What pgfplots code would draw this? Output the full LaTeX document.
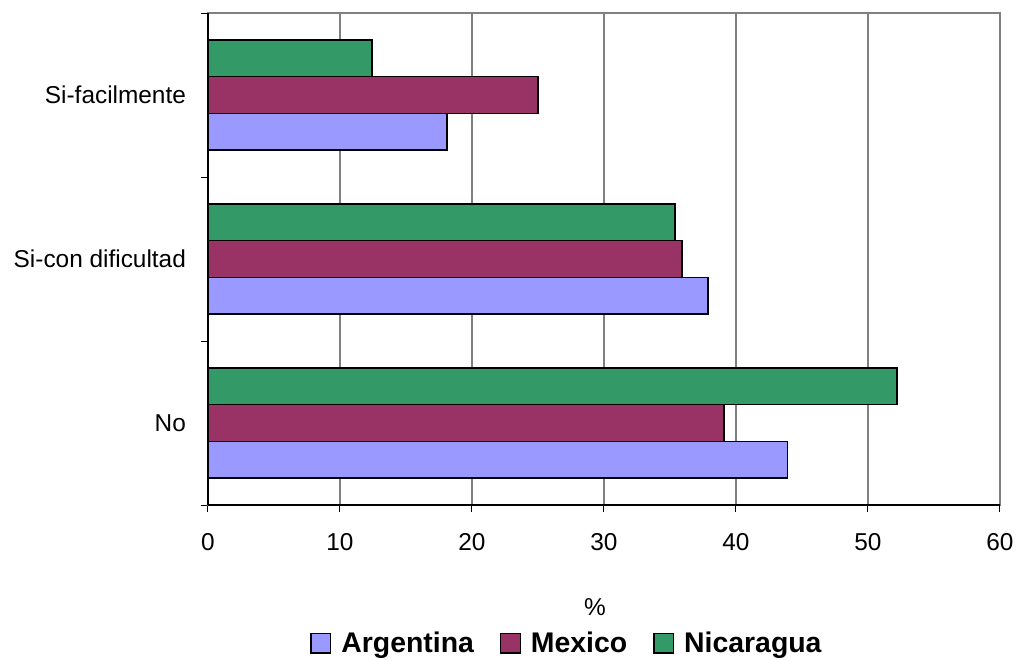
\documentclass[border=0pt]{standalone}
\usepackage{pgfplots}
\pgfplotsset{compat=1.18}
\usepackage{fontspec}
\setmainfont{Liberation Sans}
\definecolor{arg}{HTML}{9999FF}
\definecolor{mex}{HTML}{993366}
\definecolor{nic}{HTML}{339966}
\definecolor{gridgray}{HTML}{808080}

\begin{document}
\begin{tikzpicture}[x=1pt,y=1pt]
\path[use as bounding box] (0,0) rectangle (508.5,330);
\begin{axis}[
  at={(104pt,77.5pt)}, anchor=south west,
  scale only axis, width=396pt, height=246pt,
  xbar, bar width=0.224,
  xmin=0, xmax=60, ymin=-0.5, ymax=2.5,
  xtick={0,10,...,60},
  ytick={0,1,2},
  yticklabels={No,Si-con dificultad,Si-facilmente},
  minor ytick={-0.5,0.5,1.5,2.5},
  xmajorgrids,
  grid style={gridgray, line width=0.6pt},
  axis line style={gridgray, line width=0.6pt},
  tick align=outside,
  xtick pos=bottom, ytick pos=left,
  major tick length=3.5pt, minor tick length=3.5pt,
  tick style={black, line width=0.5pt},
  every major y tick/.append style={draw=none},
  tick label style={font=\fontsize{12.2}{14}\selectfont},
  /pgf/number format/assume math mode=true,
  xticklabel style={yshift=-7pt},
  yticklabel style={xshift=-4pt},
  xlabel={\%},
  xlabel style={at={(axis description cs:0.4886,-0.207)}, anchor=center, font=\fontsize{12.2}{14}\selectfont},
  legend style={at={(0.4545,-0.281)}, anchor=center, draw=none,
    font=\bfseries\fontsize{14.2}{16}\selectfont, legend columns=-1,
    /tikz/every odd column/.append style={column sep=3pt},
    /tikz/every even column/.append style={column sep=11pt}},
  legend image code/.code={\draw[#1, line width=0.7pt] (0pt,-4.9pt) rectangle (9.8pt,4.9pt);},
  clip=false,
]
\addplot[fill=arg, draw=black, line width=0.85pt, bar shift=-0.224] coordinates {(43.9,0) (37.9,1) (18.1,2)};
\addplot[fill=mex, draw=black, line width=0.85pt, bar shift=0] coordinates {(39.1,0) (35.9,1) (25.0,2)};
\addplot[fill=nic, draw=black, line width=0.85pt, bar shift=0.224] coordinates {(52.2,0) (35.4,1) (12.4,2)};
\legend{Argentina, Mexico, Nicaragua}
\draw[black, line width=0.6pt] (rel axis cs:0,0) -- (rel axis cs:0,1);
\draw[black, line width=0.6pt] (rel axis cs:0,0) -- (rel axis cs:1,0);
\end{axis}
\end{tikzpicture}
\end{document}
